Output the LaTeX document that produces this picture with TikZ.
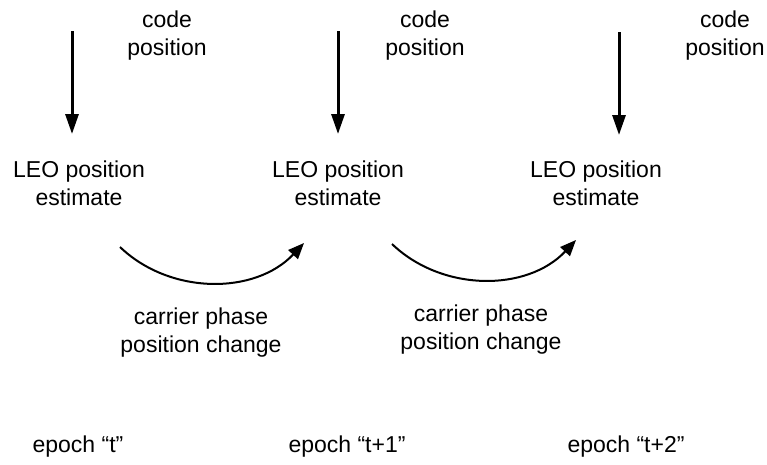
\documentclass[tikz,border=0pt]{standalone}
\usepackage{fontspec}
\setmainfont{Liberation Sans}
\usetikzlibrary{arrows.meta}
\begin{document}
\begin{tikzpicture}[x=1pt,y=-1pt,
  lbl/.style={font=\fontsize{23}{28}\selectfont, align=center, inner sep=0pt, anchor=base},
  down/.style={line width=3pt, -{Triangle[length=20pt,width=13pt]}},
  carry/.style={line width=2pt, -{Triangle[length=16pt,width=13pt]}}]
\useasboundingbox (0,0) rectangle (767,464);

% code position inputs (anchored at the baseline of the last line)
\node[lbl] (c1) at (167,55) {code\\position};
\node[lbl] (c2) at (425,55) {code\\position};
\node[lbl] (c3) at (725,55) {code\\position};

% position estimates
\node[lbl] (e1) at (79,205) {LEO position\\estimate};
\node[lbl] (e2) at (338,205) {LEO position\\estimate};
\node[lbl] (e3) at (596,205) {LEO position\\estimate};

% vertical input arrows
\coordinate (a1s) at (72,31);  \coordinate (a1e) at (72,134);
\coordinate (a2s) at (338,31); \coordinate (a2e) at (338,134);
\coordinate (a3s) at (619,32); \coordinate (a3e) at (619,135);
\draw[down] (a1s) -- (a1e);
\draw[down] (a2s) -- (a2e);
\draw[down] (a3s) -- (a3e);

% carrier phase propagation
\coordinate (p1s) at (120,247); \coordinate (p1e) at (304,243);
\coordinate (p2s) at (392,244); \coordinate (p2e) at (576,240);
\draw[carry] (p1s) .. controls (170,295) and (255,295) .. (p1e);
\draw[carry] (p2s) .. controls (442,292) and (527,292) .. (p2e);

\node[lbl] (k1) at (201,352) {carrier phase\\position change};
\node[lbl] (k2) at (481,349) {carrier phase\\position change};

% epochs
\node[lbl] (t1) at (78,452) {epoch “t”};
\node[lbl] (t2) at (347,452) {epoch “t+1”};
\node[lbl] (t3) at (626,452) {epoch “t+2”};
\end{tikzpicture}
\end{document}
